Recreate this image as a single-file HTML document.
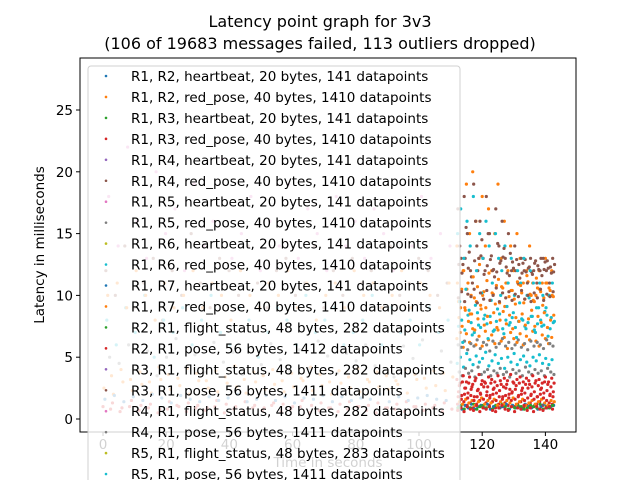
<!DOCTYPE html>
<html><head><meta charset="utf-8"><style>
body{margin:0;background:#fff;width:640px;height:480px;overflow:hidden}
svg{display:block;font-family:"DejaVu Sans","Liberation Sans",sans-serif}
</style></head><body>
<svg id="chart" width="640" height="480">
<text x="320" y="27" text-anchor="middle" font-size="16">Latency point graph for 3v3</text>
<text x="320" y="49" text-anchor="middle" font-size="16">(106 of 19683 messages failed, 113 outliers dropped)</text>
<g id="pts"></g>
<rect x="80" y="58" width="496" height="374" fill="none" stroke="#000" stroke-width="1"/>
<g id="axes"></g>
<text x="44" y="245" text-anchor="middle" font-size="13.5" transform="rotate(-90 44 245)">Latency in milliseconds</text>
<text x="328" y="467" text-anchor="middle" font-size="13.5">Time in seconds</text>
<g id="legend"></g>
</svg>
<script>
const xTicks=[0,20,40,60,80,100,120,140];
const yTicks=[0,5,10,15,20,25];
const legendLabels=["R1, R2, heartbeat, 20 bytes, 141 datapoints","R1, R2, red_pose, 40 bytes, 1410 datapoints","R1, R3, heartbeat, 20 bytes, 141 datapoints","R1, R3, red_pose, 40 bytes, 1410 datapoints","R1, R4, heartbeat, 20 bytes, 141 datapoints","R1, R4, red_pose, 40 bytes, 1410 datapoints","R1, R5, heartbeat, 20 bytes, 141 datapoints","R1, R5, red_pose, 40 bytes, 1410 datapoints","R1, R6, heartbeat, 20 bytes, 141 datapoints","R1, R6, red_pose, 40 bytes, 1410 datapoints","R1, R7, heartbeat, 20 bytes, 141 datapoints","R1, R7, red_pose, 40 bytes, 1410 datapoints","R2, R1, flight_status, 48 bytes, 282 datapoints","R2, R1, pose, 56 bytes, 1412 datapoints","R3, R1, flight_status, 48 bytes, 282 datapoints","R3, R1, pose, 56 bytes, 1411 datapoints","R4, R1, flight_status, 48 bytes, 282 datapoints","R4, R1, pose, 56 bytes, 1411 datapoints","R5, R1, flight_status, 48 bytes, 283 datapoints","R5, R1, pose, 56 bytes, 1411 datapoints"];
const palette=["#1f77b4","#ff7f0e","#2ca02c","#d62728","#9467bd","#8c564b","#e377c2","#7f7f7f","#bcbd22","#17becf"];
const seriesColors=["#ff7f0e","#ff7f0e","#ff7f0e","#8c564b","#8c564b","#17becf","#17becf","#17becf","#7f7f7f","#7f7f7f","#d62728","#d62728","#d62728","#1f77b4","#2ca02c","#ff7f0e","#d62728","#d62728","#ff7f0e","#8c564b","#17becf","#d62728","#ff7f0e","#8c564b"];
const seriesStart=[112,112.5,112,112.3,112.6,112.2,112.5,112.1,112.4,112.7,112,112.5,112.2,112.6,112.3,112.8,112.25,112.75,112.15,112.9,112.85,112.4,112.65,112.45];
const s0=[14,17,12,19,15,20,16,13,18,14,17,12,15,19,13,16,11,14,12,15,13,11,12,14,11,10,12,11,13,10,12];
const s1=[9.5,10.5,9,11,10,9.8,10.7,9.2,10.3,11.2,9.6,10.1,10.8,9.4,10.6,11,9.9,10.4,9.3,10.9,10.2,9.7,11.1,10,9.5,10.6,10.3,9.8,11,10.4,9.9];
const s2=[6.5,7,5.8,6.9,6.2,7.3,6,6.7,5.9,7.1,6.4,6.8,6.1,7.2,6.3,6.6,5.7,7,6.5,6.2,6.9,6,6.7,6.4,7.1,6.3,5.9,6.8,6.5,6.1,6.6];
const s3=[17,13,18,15,12,19,14,16,13,18,15,12,17,14,16,13,15,12,14,11,13,12,11,13,12,11,12,13,12,11,13];
const s4=[12.5,11.8,13,12.2,11.5,12.8,12,13.2,11.7,12.4,12.9,12.1,11.9,12.6,13.1,12.3,11.6,12.7,12,12.5,11.8,12.9,12.2,11.9,12.6,12.4,13,12.1,12.8,12.3,11.9];
const s5=[15,17,13,16,14,18,12,15,13,16,14,11,15,13,12,14,11,13,10,12,11,13,10,12,11,9,11,10,9,10,11];
const s6=[7.5,8,7.2,8.4,7.8,7,8.6,7.4,8.1,7.7,8.3,7.1,7.9,8.5,7.3,8,7.6,8.2,7.4,7.9,8.1,7.5,7.8,8.3,7.2,7.7,8,7.6,8.4,7.3,7.8];
const s7=[4.5,5,4.2,5.3,4.8,4.4,5.1,4.6,4.9,5.4,4.3,4.7,5.2,4.5,4.9,4.1,5,4.6,5.3,4.4,4.8,5.1,4.6,4.3,5,4.7,5.2,4.5,4.9,4.4,4.8];
const s8=[6,5.8,6.3,5.6,6.1,5.9,6.4,5.7,6.2,6,5.5,6.3,5.8,6.1,6.5,5.9,6.2,5.7,6,6.4,5.8,6.1,5.6,6.3,5.9,6.2,6,5.7,6.4,6.1,5.9];
const s9=[3.8,3.5,4.1,3.7,3.9,3.4,4.2,3.6,3.8,4,3.5,3.9,3.7,4.1,3.6,3.8,3.4,4,3.7,3.9,3.5,4.2,3.8,3.6,4,3.7,3.9,3.5,4.1,3.8,3.6];
const s10=[3.2,2.9,3.5,3,3.4,2.8,3.3,3.6,3.1,2.9,3.4,3.2,3,3.5,2.8,3.3,3.1,3.6,2.9,3.2,3.4,3,3.3,2.8,3.5,3.1,3.2,2.9,3.4,3,3.3];
const s11=[2.2,1.9,2.5,2.1,2.4,1.8,2.3,2,2.6,2.2,1.9,2.4,2.1,2.3,1.8,2.5,2,2.2,2.4,1.9,2.3,2.1,2.5,2,2.2,1.8,2.4,2.1,2.3,2,2.2];
const s12=[1.2,1,1.4,1.1,1.3,0.9,1.2,1.5,1,1.3,1.1,1.4,0.9,1.2,1,1.3,1.1,1.5,1,1.2,1.4,0.9,1.1,1.3,1,1.2,1.4,1.1,0.9,1.3,1.2];
const s13=[1,0.8,1.1,0.9,1.2,0.8,1,1.1,0.9,1.2,0.8,1,1.1,0.9,1,1.2,0.8,1.1,0.9,1,0.8,1.2,1,0.9,1.1,0.8,1,1.2,0.9,1,1.1];
const s14=[0.9,1.1,0.8,1,0.9,1.2,0.8,1,1.1,0.9,1,0.8,1.1,0.9,1.2,1,0.8,1,0.9,1.1,1,0.8,0.9,1.1,1,0.9,1.2,0.8,1,0.9,1.1];
const s15=[1.4,1.2,1.6,1.3,1.5,1.1,1.4,1.7,1.2,1.5,1.3,1.6,1.1,1.4,1.2,1.5,1.3,1.7,1.2,1.4,1.6,1.1,1.3,1.5,1.2,1.4,1.6,1.3,1.1,1.5,1.4];
const s16=[0.7,0.9,0.6,1,0.8,0.7,1.1,0.6,0.9,0.8,1,0.7,0.6,0.9,1.1,0.8,0.7,1,0.6,0.9,0.8,1.1,0.7,0.9,0.6,1,0.8,0.7,0.9,1,0.8];
const s17=[2.7,3,2.5,2.9,2.6,3.1,2.4,2.8,3,2.6,2.9,2.5,2.7,3.1,2.6,2.8,2.4,3,2.7,2.9,2.5,2.8,3.1,2.6,2.9,2.7,2.5,3,2.8,2.6,2.9];
const s18=[11,9,12,10.5,8.5,11.5,9.5,12.5,10,9,11.8,10.2,9.3,11.3,10.7,9.1,12,10.4,9.7,11.1,10.8,9.4,11.6,10.1,9.6,11.4,10.5,9.2,11,10.6,10];
const s19=[14,12.5,15.5,13.5,11,16,13,14.5,12,15,13.2,11.5,14.2,12.8,13.8,11.8,13.4,12.2,12.9,11.4,12.6,11.9,12.3,11.7,12.8,12.1,11.6,12.7,12.2,11.8,12.5];
const s20=[9.5,6.2,10.5,8.8,6.8,9.2,7.6,10.2,8.4,6.5,9.6,7.2,8.9,10,6.9,9.1,7.8,8.6,6.6,9.4,8,7.3,9.8,8.3,7,9,7.5,8.7,6.7,8.2,7.9];
const s21=[1.8,1.6,2,1.7,1.9,1.5,1.8,2.1,1.6,1.9,1.7,2,1.5,1.8,1.6,1.9,1.7,2.1,1.6,1.8,2,1.5,1.7,1.9,1.6,1.8,2,1.7,1.5,1.9,1.8];
const s22=[8.2,7.5,8.8,7.9,8.5,7.2,8.1,8.9,7.6,8.3,7.8,8.6,7.4,8,8.7,7.7,8.4,7.3,8.2,7.9,8.5,7.6,8.1,8.8,7.5,8.3,7.8,8.6,7.4,8,8.4];
const s23=[9.8,10.3,9.5,10.1,9.9,10.5,9.4,10.2,9.7,10.4,9.6,10,10.6,9.5,10.2,9.8,10.3,9.6,10.1,9.9,10.4,9.7,10,9.5,10.2,9.8,10.5,9.6,10.1,9.9,10.3];
const seriesValues=[s0,s1,s2,s3,s4,s5,s6,s7,s8,s9,s10,s11,s12,s13,s14,s15,s16,s17,s18,s19,s20,s21,s22,s23];
const leftColors=["#d62728","#ff7f0e","#1f77b4","#8c564b","#17becf","#ff7f0e","#e377c2","#7f7f7f","#d62728","#ff7f0e"];
const l0=[1,1.3,0.9,1.5,1.1,1.2,0.8,1.4,1,1.3,1.1,0.9,1.5,1.2,1,1.4,1.1,0.9,1.3,1.2,1,1.5,1.1,1.3,0.9,1.2,1.4,1,1.1,1.3,0.9,1.2,1.4,1,1.2,1.1,1.3];
const l1=[2.5,2,3,2.3,2.8,2.1,3.2,2.4,2.7,2,3.1,2.5,2.2,2.9,2.6,2.1,3,2.4,2.8,2.2,2.6,3.1,2.3,2.7,2,2.9,2.5,2.2,3,2.6,2.4,2.8,2.1,3.2,2.5,2.7,2.3];
const l2=[1.6,1.9,1.4,1.8,1.5,2,1.7,1.3,1.9,1.6,1.4,1.8,1.5,1.7,2,1.4,1.6,1.9,1.5,1.8,1.3,1.7,1.6,1.9,1.4,1.8,1.5,1.7,1.6,2,1.4,1.8,1.5,1.7,1.9,1.6,1.5];
const l3=[12,10,14,9,11,13,8,12,10,15,11,9,13,12,10,14,11,9,12,13,10,11,14,9,12,10,13,11,12,9,14,10,11,13,12,10,11];
const l4=[8,6,9,7,10,5,8,7,9,6,8,10,7,6,9,8,5,7,9,8,6,10,7,8,9,6,7,8,10,6,9,7,8,6,9,7,8];
const l5=[10,11,9,12,10,8,11,9,10,12,9,11,10,8,12,10,9,11,10,12,9,11,8,10,11,9,12,10,11,9,10,12,9,11,10,9,11];
const l6=[18,14,22,16,13,20,15,17,12,19,14,16,21,13,15,18,12,16,14,19,13,17,15,12,18,14,16,13,17,15,12,16,14,18,13,15,14];
const l7=[5,4.5,6,4,5.5,3.5,5,6.5,4.2,5.2,3.8,6.2,4.6,5.4,3.6,5.8,4.4,6.1,4.8,3.9,5.6,4.1,6.3,5.1,3.7,5.3,4.7,6,4.3,5.7,3.4,5.9,4.9,6.4,4,5.5,4.6];
const l8=[0.8,0.6,1,0.7,0.9,0.5,0.8,1.1,0.6,0.9,0.7,1,0.5,0.8,0.6,0.9,0.7,1.1,0.6,0.8,1,0.5,0.7,0.9,0.6,0.8,1,0.7,0.5,0.9,0.8,0.6,1,0.7,0.9,0.6,0.8];
const l9=[3.5,4,3.2,3.8,3,4.2,3.6,3.3,4.1,3.7,3.1,3.9,3.4,4.3,3.2,3.8,3.5,4,3.1,3.7,3.3,4.2,3.6,3,3.9,3.4,4.1,3.2,3.8,3.5,3.1,4,3.6,3.3,3.9,3.7,3.4];
const leftValues=[l0,l1,l2,l3,l4,l5,l6,l7,l8,l9];

const NS="http://www.w3.org/2000/svg";
const xS=t=>103+t*3.16;
const yS=v=>419-v*12.36;
function mk(tag,attrs,parent){const e=document.createElementNS(NS,tag);for(const k in attrs)e.setAttribute(k,attrs[k]);parent.appendChild(e);return e;}
const pts=document.getElementById('pts');
leftValues.forEach((arr,si)=>{arr.forEach((v,i)=>{const t=i*3+(si*0.3);
  const c=mk('circle',{cx:xS(t),cy:yS(v),r:1.6,fill:leftColors[si]},pts);
  
  });});
seriesValues.forEach((arr,si)=>{arr.forEach((v,i)=>{const t=seriesStart[si]+i;
  const c=mk('circle',{cx:xS(t),cy:yS(v),r:1.6,fill:seriesColors[si]},pts);
  
  });});
const ax=document.getElementById('axes');
xTicks.forEach(t=>{const x=xS(t);
  mk('line',{x1:x,x2:x,y1:432,y2:436,stroke:'#000'},ax);
  const tx=mk('text',{x:x,y:449,'text-anchor':'middle','font-size':13.5},ax);tx.textContent=t;
  
  });
yTicks.forEach(v=>{const y=yS(v);
  mk('line',{x1:76,x2:80,y1:y,y2:y,stroke:'#000'},ax);
  const tx=mk('text',{x:73,y:y+5,'text-anchor':'end','font-size':13.5},ax);tx.textContent=v;
  
  });
const lg=document.getElementById('legend');
mk('rect',{x:88,y:66,width:372,height:420,rx:3,fill:'rgba(255,255,255,0.82)',stroke:'#d0d0d0'},lg);
legendLabels.forEach((s,i)=>{const y=76+i*20.95;
  if(y>478)return;
  const d=mk('circle',{cx:106,cy:y,r:1.3,fill:palette[i%10]},lg);
  
  
  const tx=mk('text',{x:131,y:y+5,'font-size':13.5},lg);tx.textContent=s;
  
  });
</script>
</body></html>
